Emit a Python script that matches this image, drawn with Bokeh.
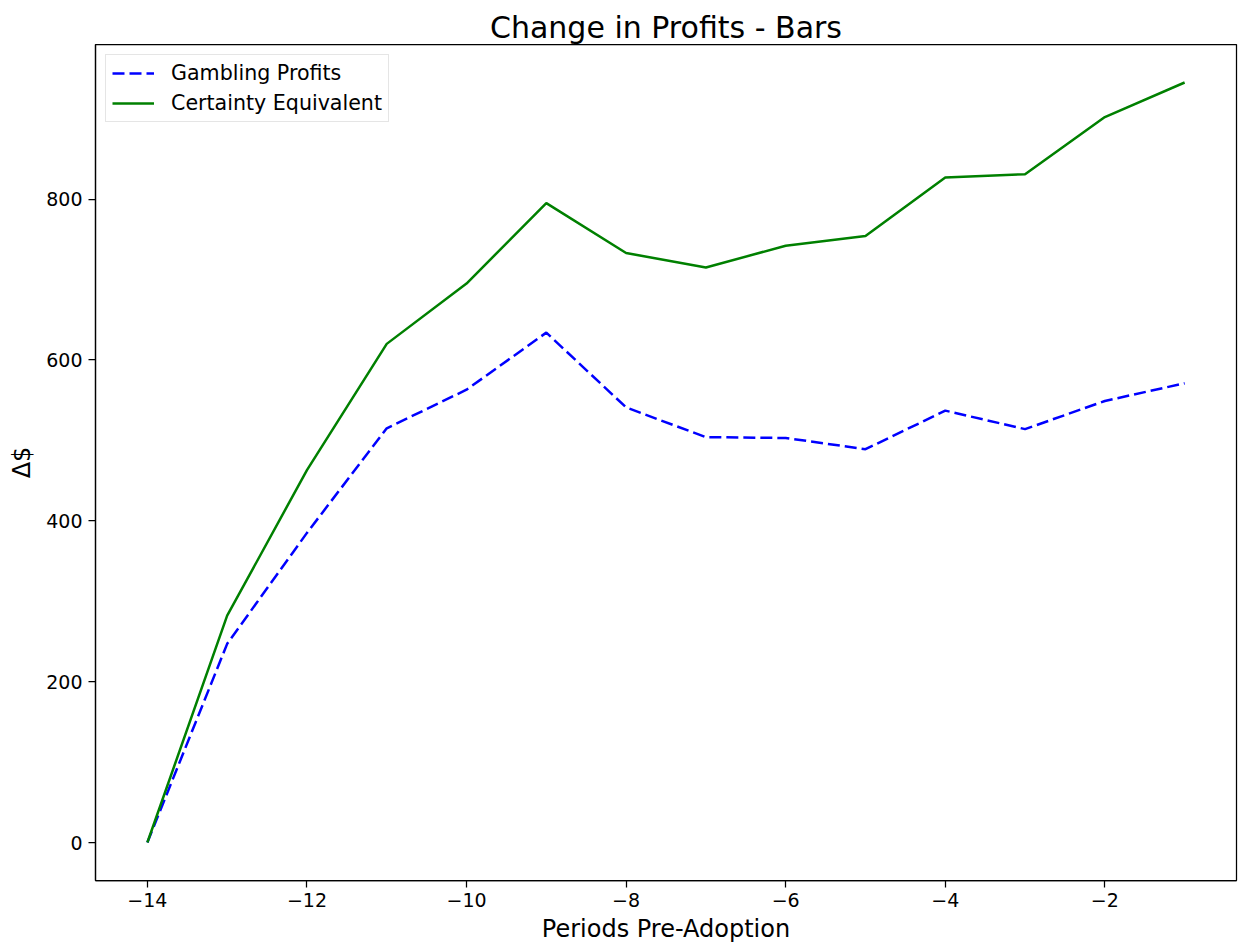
from bokeh.plotting import figure
from bokeh.models import Range1d, FixedTicker, Legend, LegendItem
from bokeh.embed import file_html
from bokeh.resources import INLINE

# ---- data ----
periods = [-14, -13, -12, -11, -10, -9, -8, -7, -6, -5, -4, -3, -2, -1]
gambling_profits = [0, 247, 385, 515, 563, 634, 541, 504, 503, 489, 537, 514, 549, 571]
certainty_equivalent = [0, 282, 463, 620, 695, 795, 733, 715, 742, 754, 827, 831, 902, 945]
x_tick_values = [-14, -12, -10, -8, -6, -4, -2]
x_tick_labels = ["\u221214", "\u221212", "\u221210", "\u22128", "\u22126", "\u22124", "\u22122"]
y_tick_values = [0, 200, 400, 600, 800]
y_tick_labels = ["0", "200", "400", "600", "800"]
series_names = ["Gambling Profits", "Certainty Equivalent"]

FONT = "DejaVu Sans"

xpad = (max(periods) - min(periods)) * 0.05
ymin = min(min(gambling_profits), min(certainty_equivalent))
ymax = max(max(gambling_profits), max(certainty_equivalent))
ypad = (ymax - ymin) * 0.05

p = figure(
    width=1238, height=945,
    output_backend="svg", toolbar_location=None,
    x_range=Range1d(min(periods) - xpad, max(periods) + xpad),
    y_range=Range1d(ymin - ypad, ymax + ypad),
    min_border_left=95, min_border_right=2, min_border_top=44, min_border_bottom=65,
    title="Change in Profits - Bars",
)

p.title.text_font = FONT
p.title.text_font_size = "30px"
p.title.text_font_style = "normal"
p.title.align = "center"
p.title.text_color = "black"
p.title.standoff = 0

p.grid.visible = False
p.outline_line_color = "black"
p.outline_line_width = 1.25
p.background_fill_color = "white"
p.border_fill_color = "white"

for ax in (p.xaxis[0], p.yaxis[0]):
    ax.axis_line_color = "black"
    ax.axis_line_width = 1.25
    ax.major_tick_line_color = "black"
    ax.major_tick_line_width = 1.25
    ax.major_tick_out = 7
    ax.major_tick_in = 0
    ax.minor_tick_line_color = None
    ax.major_label_text_font = FONT
    ax.major_label_text_font_size = "19px"
    ax.major_label_text_color = "black"
    ax.axis_label_text_font = FONT
    ax.axis_label_text_font_size = "24px"
    ax.axis_label_text_font_style = "normal"
    ax.axis_label_text_color = "black"

p.xaxis.ticker = FixedTicker(ticks=x_tick_values)
p.xaxis.major_label_overrides = dict(zip(x_tick_values, x_tick_labels))
p.yaxis.ticker = FixedTicker(ticks=y_tick_values)
p.yaxis.major_label_overrides = dict(zip(y_tick_values, y_tick_labels))
p.xaxis.axis_label = "Periods Pre-Adoption"
p.yaxis.axis_label = "\u0394$"
p.yaxis.major_label_standoff = 6
p.yaxis.axis_label_standoff = 7
p.xaxis.major_label_standoff = 5
p.xaxis.axis_label_standoff = 5

r1 = p.line(periods, gambling_profits, line_color="#0000ff", line_width=2.5, line_dash="12 5")
r2 = p.line(periods, certainty_equivalent, line_color="#008000", line_width=2.5)

legend = Legend(
    items=[LegendItem(label=series_names[0], renderers=[r1]),
           LegendItem(label=series_names[1], renderers=[r2])],
    location="top_left",
)
legend.label_text_font = FONT
legend.label_text_font_size = "20.6px"
legend.label_text_color = "black"
legend.glyph_width = 42
legend.glyph_height = 24
legend.label_height = 24
legend.spacing = 6
legend.label_standoff = 17
legend.padding = 6
legend.margin = 10
legend.border_line_color = "#cccccc"
legend.border_line_width = 1
legend.background_fill_alpha = 0.8
p.add_layout(legend)

open("out.html", "w").write(file_html(p, INLINE))
